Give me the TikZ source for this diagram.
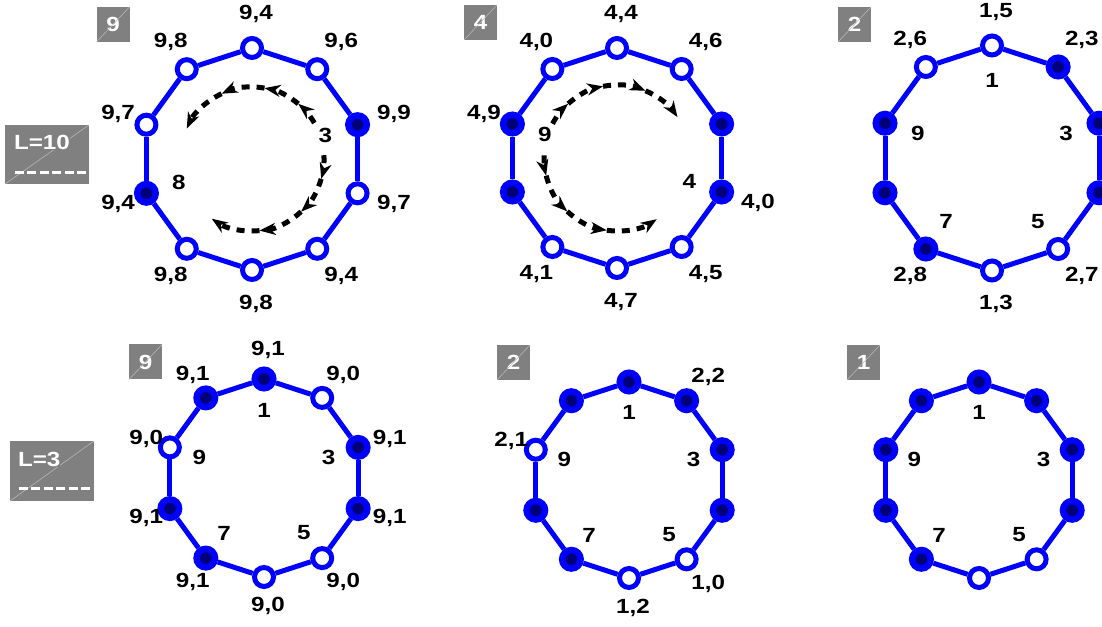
\documentclass[tikz,border=0pt]{standalone}
\usepackage{fontspec}
\setmainfont[FakeStretch=1.18]{Liberation Sans}
\usetikzlibrary{calc,arrows.meta}
\definecolor{ringblue}{RGB}{0,0,255}
\definecolor{sitenavy}{RGB}{0,0,120}
\definecolor{tagbox}{RGB}{128,128,128}
\definecolor{tagline}{RGB}{190,190,190}

\begin{document}
\begin{tikzpicture}[x=1pt,y=1pt,
  vo/.style={circle, draw=ringblue, fill=white, line width=5pt, minimum size=19pt, inner sep=0pt},
  vf/.style={circle, draw=ringblue, fill=sitenavy, line width=6.5pt, minimum size=18.5pt, inner sep=0pt},
  bond/.style={draw=ringblue, line width=5pt},
  lab/.style={font=\bfseries\fontsize{20.5}{24}\selectfont, inner sep=0pt},
  outlab/.style={lab, xshift=4pt},
  tag/.style={fill=tagbox, inner sep=0pt, text=white, font=\bfseries\fontsize{20.5}{24}\selectfont},
  diag/.style={draw=tagline, line width=0.5pt},
  tagdash/.style={draw=white, line width=3pt, dash pattern=on 9pt off 3.5pt},
  flow/.style={black, line width=5pt, dash pattern=on 8pt off 7pt,
    -{Stealth[length=16pt,width=12pt,inset=5pt]}}]
\useasboundingbox (0,0) rectangle (1102,626);

% centres of the six rings
\coordinate (c1) at (252,467);
\coordinate (c2) at (617,468);
\coordinate (c3) at (992,468);
\coordinate (c4) at (264,148);
\coordinate (c5) at (629,146);
\coordinate (c6) at (979,146);

% row labels
\node[tag, minimum width=84pt, minimum height=59pt] (len1) at (47,471.5) {};
\draw[diag] (len1.south west) -- (len1.north east);
\node[tag, anchor=west] (len1t) at ([shift={(9pt,-18pt)}]len1.north west) {L=10};
\draw[tagdash] ([shift={(10pt,12pt)}]len1.south west) -- ([yshift=12pt]len1.south east);

\node[tag, minimum width=84pt, minimum height=60pt] (len2) at (52,155) {};
\draw[diag] (len2.south west) -- (len2.north east);
\node[tag, anchor=west] (len2t) at ([shift={(8pt,-19pt)}]len2.north west) {L=3};
\draw[tagdash] ([shift={(9pt,13pt)}]len2.south west) -- ([yshift=13pt]len2.south east);

% step tags
\foreach \n/\x/\y/\t in {1/113/601.5/9, 2/480.5/603.5/4, 3/854.5/601.5/2,
                         4/145.5/264/9, 5/513.5/263.5/2, 6/863.5/263.5/1} {
  \node[tag, minimum width=33pt, minimum height=35pt] (tg\n) at (\x,\y) {\t};
  \draw[diag] (tg\n.south west) -- (tg\n.north east);
}

% ring 1, L=10
\foreach \k/\s/\t [evaluate=\k as \a using 90-36*\k] in
  {0/vo/{9,4}, 1/vo/{9,6}, 2/vf/{9,9}, 3/vo/{9,7}, 4/vo/{9,4},
   5/vo/{9,8}, 6/vo/{9,8}, 7/vf/{9,4}, 8/vo/{9,7}, 9/vo/{9,8}} {
  \node[\s] (p1v\k) at ($(c1)+(\a:111)$) {};
  \node[outlab] (p1l\k) at ($(c1)+(\a:145)$) {\t};
}
\node[lab] (p1i2) at ($(c1)+(18:77)$) {3};
\node[lab] (p1i7) at ($(c1)+(-162:77)$) {8};
\foreach \a/\b in {30/50, 50/80, 80/115, 115/155, 3/-16, -16/-47, -47/-84, -84/-124}
  \draw[flow] ($(c1)+(\a:72)$) arc[start angle=\a, end angle=\b, radius=72pt];

% ring 2, L=10
\foreach \k/\s/\t [evaluate=\k as \a using 90-36*\k] in
  {0/vo/{4,4}, 1/vo/{4,6}, 2/vf/{}, 3/vf/{4,0}, 4/vo/{4,5},
   5/vo/{4,7}, 6/vo/{4,1}, 7/vf/{}, 8/vf/{4,9}, 9/vo/{4,0}} {
  \node[\s] (p2v\k) at ($(c2)+(\a:110)$) {};
  \node[outlab] (p2l\k) at ($(c2)+(\a:144)$) {\t};
}
\node[lab] (p2i8) at ($(c2)+(162:76)$) {9};
\node[lab] (p2i3) at ($(c2)+(-18:76)$) {4};
\foreach \a/\b in {152/132, 132/101, 101/67, 67/34, 178/194, 194/227, 227/262, 262/303}
  \draw[flow] ($(c2)+(\a:73)$) arc[start angle=\a, end angle=\b, radius=73pt];

% ring 3, L=10
\foreach \k/\s/\t [evaluate=\k as \a using 90-36*\k] in
  {0/vo/{1,5}, 1/vf/{2,3}, 2/vf/{}, 3/vf/{}, 4/vo/{2,7},
   5/vo/{1,3}, 6/vf/{2,8}, 7/vf/{}, 8/vf/{}, 9/vo/{2,6}} {
  \node[\s] (p3v\k) at ($(c3)+(\a:112.5)$) {};
  \node[outlab] (p3l\k) at ($(c3)+(\a:146)$) {\t};
}

% ring 4, L=3
\foreach \k/\s/\t [evaluate=\k as \a using 90-36*\k] in
  {0/vf/{9,1}, 1/vo/{9,0}, 2/vf/{9,1}, 3/vf/{9,1}, 4/vo/{9,0},
   5/vo/{9,0}, 6/vf/{9,1}, 7/vf/{9,1}, 8/vo/{9,0}, 9/vf/{9,1}} {
  \node[\s] (p4v\k) at ($(c4)+(\a:99)$) {};
  \node[outlab] (p4l\k) at ($(c4)+(\a:128)$) {\t};
}

% ring 5, L=3
\foreach \k/\s/\t [evaluate=\k as \a using 90-36*\k] in
  {0/vf/{}, 1/vf/{2,2}, 2/vf/{}, 3/vf/{}, 4/vo/{1,0},
   5/vo/{1,2}, 6/vf/{}, 7/vf/{}, 8/vo/{2,1}, 9/vf/{}} {
  \node[\s] (p5v\k) at ($(c5)+(\a:98)$) {};
  \node[outlab] (p5l\k) at ($(c5)+(\a:128)$) {\t};
}

% ring 6, L=3
\foreach \k/\s [evaluate=\k as \a using 90-36*\k] in
  {0/vf, 1/vf, 2/vf, 3/vf, 4/vo, 5/vo, 6/vf, 7/vf, 8/vf, 9/vf} {
  \node[\s] (p6v\k) at ($(c6)+(\a:98)$) {};
}

% bonds and site numbers
\foreach \p in {1,2,3,4,5,6} {
  \foreach \k in {0,1,2,3,4,5,6,7,8,9} {
    \pgfmathtruncatemacro\j{mod(\k+1,10)}
    \draw[bond] (p\p v\k) -- (p\p v\j);
  }
}
\foreach \p/\r in {3/78, 4/68, 5/68, 6/68} {
  \foreach \k/\t in {0/1, 2/3, 4/5, 6/7, 8/9} {
    \pgfmathsetmacro\a{90-36*\k}
    \node[lab] (p\p i\k) at ($(c\p)+(\a:\r)$) {\t};
  }
}
\end{tikzpicture}
\end{document}
